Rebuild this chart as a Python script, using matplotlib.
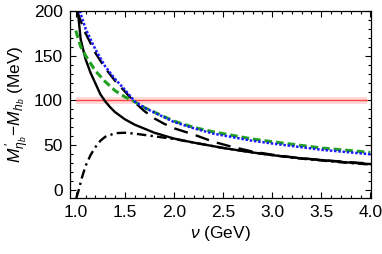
import matplotlib
matplotlib.use("Agg")
import matplotlib.pyplot as plt
from matplotlib.ticker import MultipleLocator, FormatStrFormatter

plt.rcParams['font.family'] = ['Liberation Sans', 'DejaVu Sans']
plt.rcParams['mathtext.fontset'] = 'custom'
plt.rcParams['mathtext.rm'] = 'Liberation Sans'
plt.rcParams['mathtext.it'] = 'Liberation Sans:italic'
plt.rcParams['mathtext.bf'] = 'Liberation Sans:bold'

# values
nu_solid = [1.02, 1.05, 1.1, 1.15, 1.2, 1.25, 1.3, 1.35, 1.4, 1.5, 1.6, 1.8, 2.0, 2.2, 2.5, 2.8, 3.0, 3.25, 3.5, 3.75, 4.0]
solid = [200, 168, 146, 131, 119, 107, 99, 92.5, 87, 79, 73, 64, 57.5, 53, 47, 42, 39, 36, 33.5, 31, 29]

nu_dash = [1.01, 1.1, 1.2, 1.3, 1.4, 1.5, 1.6, 1.7, 1.8, 1.9, 2.0, 2.2, 2.4, 2.6, 2.8, 3.0, 3.25, 3.5, 3.75, 4.0]
dash = [200, 175, 153, 136, 122, 110, 98, 88, 80, 74, 69, 62, 54, 48, 43, 39.5, 36, 33.5, 31.5, 29.5]

nu_dd = [1.005, 1.03, 1.06, 1.1, 1.15, 1.2, 1.25, 1.3, 1.4, 1.5, 1.6, 1.8, 2.0, 2.2, 2.5, 2.8, 3.0, 3.25, 3.5, 3.75, 4.0]
dashdot = [-9, 0, 13, 27, 39, 48, 55, 59.5, 63.5, 64, 63, 60, 57, 53, 47, 42, 39, 35.5, 33, 30.5, 28.5]

nu_blue = [1.04, 1.1, 1.2, 1.3, 1.4, 1.5, 1.6, 1.7, 1.8, 2.0, 2.2, 2.4, 2.6, 2.8, 3.0, 3.25, 3.5, 3.75, 4.0]
blue = [200, 180, 157, 138, 124, 112, 99, 92, 86.5, 76, 69, 63, 59, 55, 52, 48.5, 45, 42.5, 40]

nu_green = [1.0, 1.05, 1.1, 1.2, 1.3, 1.4, 1.5, 1.6, 1.7, 1.8, 2.0, 2.2, 2.4, 2.6, 2.8, 3.0, 3.25, 3.5, 3.75, 4.0]
green = [178, 160, 150, 133, 121, 111, 104, 98.5, 92, 87, 77, 70, 65, 61, 57, 54, 50.5, 47, 44.5, 42]

ref_nu = [1.0, 3.97]
ref_val = 100
ref_err = 4

fig = plt.figure(figsize=(3.82, 2.54), dpi=100)
ax = fig.add_axes([0.183, 0.22, 0.789, 0.737])

ax.fill_between(ref_nu, ref_val - ref_err, ref_val + ref_err, color='#ffd9d9', lw=0)
ax.plot(ref_nu, [ref_val, ref_val], color='#ff4444', lw=1)

ax.plot(nu_solid, solid, color='black', lw=1.7)
ax.plot(nu_dash, dash, color='black', lw=1.7, dashes=(6, 3.5))
ax.plot(nu_dd, dashdot, color='black', lw=1.7, dashes=(4, 1.8, 1, 1.8))
ax.plot(nu_green, green, color='#22a022', lw=2.2, dashes=(2.5, 1.3))
ax.plot(nu_blue, blue, color='#1a1aff', lw=1.8, dashes=(1, 0.7))

ax.set_xlim(0.94, 4.01)
ax.set_ylim(-9, 200)
ax.xaxis.set_major_locator(MultipleLocator(0.5))
ax.xaxis.set_minor_locator(MultipleLocator(0.1))
ax.yaxis.set_major_locator(MultipleLocator(50))
ax.yaxis.set_minor_locator(MultipleLocator(10))
ax.xaxis.set_major_formatter(FormatStrFormatter('%.1f'))
ax.tick_params(which='both', direction='in', top=True, right=True, labelsize=12.5, width=0.8)
ax.tick_params(which='major', length=4, pad=5)
ax.tick_params(which='minor', length=2)
for s in ax.spines.values():
    s.set_linewidth(0.9)

ax.set_xlabel(r'$\nu$ (GeV)', fontsize=12.5, labelpad=3)
ax.set_ylabel(r"$M^{\,\prime}_{\eta_b}\!-\!M_{h_b}$ (MeV)", fontsize=12.5, labelpad=1)

fig.savefig('out.png', dpi=100)
